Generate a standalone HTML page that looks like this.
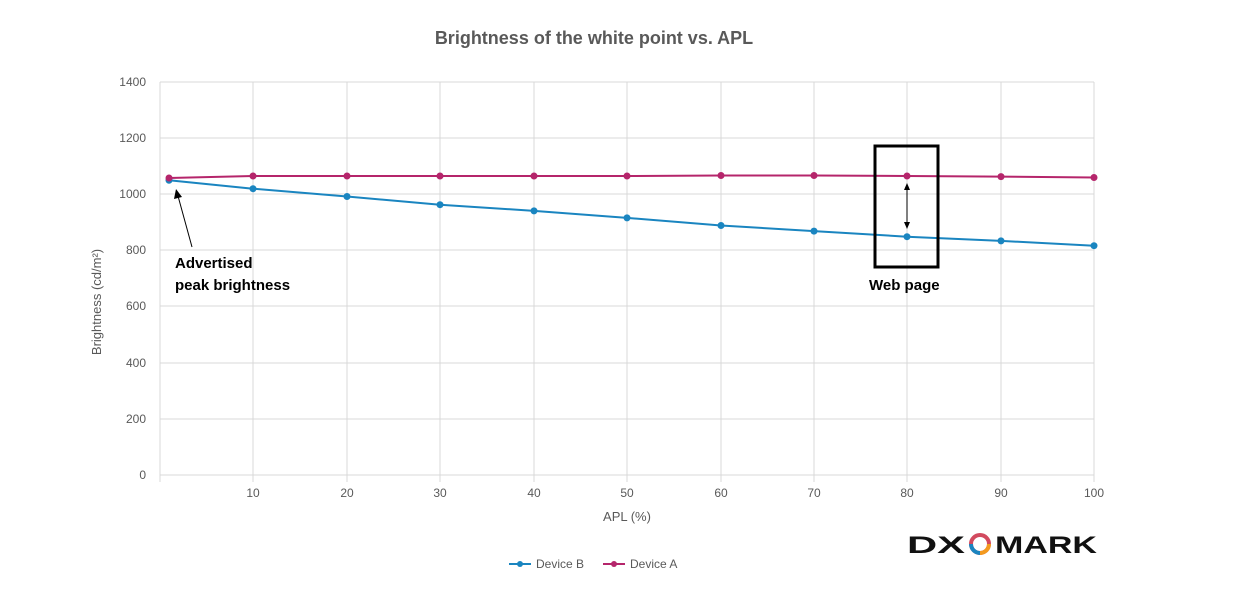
<!DOCTYPE html>
<html><head><meta charset="utf-8"><style>body{margin:0;background:#fff}svg{display:block}</style></head><body>
<svg width="1243" height="596" xmlns="http://www.w3.org/2000/svg" font-family="Liberation Sans, sans-serif">
<rect width="1243" height="596" fill="#fff"/>
<text x="594" y="44" text-anchor="middle" font-size="18" font-weight="bold" fill="#595959">Brightness of the white point vs. APL</text>
<g stroke="#d9d9d9" stroke-width="1">
<line x1="160" y1="82" x2="1094" y2="82"/><line x1="160" y1="138" x2="1094" y2="138"/><line x1="160" y1="194" x2="1094" y2="194"/><line x1="160" y1="250" x2="1094" y2="250"/><line x1="160" y1="306" x2="1094" y2="306"/><line x1="160" y1="363" x2="1094" y2="363"/><line x1="160" y1="419" x2="1094" y2="419"/><line x1="160" y1="475" x2="1094" y2="475"/>
<line x1="160" y1="82" x2="160" y2="482"/><line x1="253" y1="82" x2="253" y2="482"/><line x1="347" y1="82" x2="347" y2="482"/><line x1="440" y1="82" x2="440" y2="482"/><line x1="534" y1="82" x2="534" y2="482"/><line x1="627" y1="82" x2="627" y2="482"/><line x1="721" y1="82" x2="721" y2="482"/><line x1="814" y1="82" x2="814" y2="482"/><line x1="907" y1="82" x2="907" y2="482"/><line x1="1001" y1="82" x2="1001" y2="482"/><line x1="1094" y1="82" x2="1094" y2="482"/>
</g>
<g font-size="12" fill="#595959" text-anchor="end">
<text x="146" y="86">1400</text><text x="146" y="142">1200</text><text x="146" y="198">1000</text><text x="146" y="254">800</text><text x="146" y="310">600</text><text x="146" y="367">400</text><text x="146" y="423">200</text><text x="146" y="479">0</text>
</g>
<g font-size="12" fill="#595959" text-anchor="middle">
<text x="253" y="497">10</text><text x="347" y="497">20</text><text x="440" y="497">30</text><text x="534" y="497">40</text><text x="627" y="497">50</text><text x="721" y="497">60</text><text x="814" y="497">70</text><text x="907" y="497">80</text><text x="1001" y="497">90</text><text x="1094" y="497">100</text>
<text x="627" y="521" font-size="13">APL (%)</text>
</g>
<text transform="translate(101,302) rotate(-90)" font-size="13" fill="#595959" text-anchor="middle">Brightness (cd/m²)</text>
<polyline fill="none" stroke="#1a85c0" stroke-width="2" points="169,180.3 253,188.7 347,196.5 440,204.7 534,210.9 627,217.9 721,225.5 814,231.1 907,236.7 1001,240.9 1094,245.7"/>
<g fill="#1a85c0"><circle cx="169" cy="180.3" r="3.5"/><circle cx="253" cy="188.7" r="3.5"/><circle cx="347" cy="196.5" r="3.5"/><circle cx="440" cy="204.7" r="3.5"/><circle cx="534" cy="210.9" r="3.5"/><circle cx="627" cy="217.9" r="3.5"/><circle cx="721" cy="225.5" r="3.5"/><circle cx="814" cy="231.1" r="3.5"/><circle cx="907" cy="236.7" r="3.5"/><circle cx="1001" cy="240.9" r="3.5"/><circle cx="1094" cy="245.7" r="3.5"/></g>
<polyline fill="none" stroke="#b5256b" stroke-width="2" points="169,178 253,176 347,176 440,176 534,176 627,176 721,175.5 814,175.5 907,176 1001,176.6 1094,177.5"/>
<g fill="#b5256b"><circle cx="169" cy="178" r="3.5"/><circle cx="253" cy="176" r="3.5"/><circle cx="347" cy="176" r="3.5"/><circle cx="440" cy="176" r="3.5"/><circle cx="534" cy="176" r="3.5"/><circle cx="627" cy="176" r="3.5"/><circle cx="721" cy="175.5" r="3.5"/><circle cx="814" cy="175.5" r="3.5"/><circle cx="907" cy="176" r="3.5"/><circle cx="1001" cy="176.6" r="3.5"/><circle cx="1094" cy="177.5" r="3.5"/></g>
<line x1="192" y1="247" x2="178" y2="196" stroke="#000" stroke-width="1"/>
<polygon points="176,189 174,199 182,197" fill="#000"/>
<g font-size="15" font-weight="bold" fill="#000"><text x="175" y="268">Advertised</text><text x="175" y="290">peak brightness</text><text x="869" y="290">Web page</text></g>
<rect x="875" y="146" width="63" height="121" fill="none" stroke="#000" stroke-width="3"/>
<line x1="907" y1="188" x2="907" y2="224" stroke="#000" stroke-width="1"/>
<polygon points="907,183 904,190 910,190" fill="#000"/><polygon points="907,229 904,222 910,222" fill="#000"/>
<text x="907" y="553" font-size="24" font-weight="bold" fill="#111" textLength="58" lengthAdjust="spacingAndGlyphs">DX</text>
<circle cx="980" cy="544" r="9" fill="none" stroke="#d24a5f" stroke-width="4"/>
<path d="M971,544 A9,9 0 0 0 980,553" fill="none" stroke="#1a85c0" stroke-width="4"/>
<path d="M980,553 A9,9 0 0 0 989,544" fill="none" stroke="#f39a1e" stroke-width="4"/>
<text x="995" y="553" font-size="24" font-weight="bold" fill="#111" textLength="102" lengthAdjust="spacingAndGlyphs">MARK</text>
<line x1="509" y1="564" x2="531" y2="564" stroke="#1a85c0" stroke-width="2"/><circle cx="520" cy="564" r="3" fill="#1a85c0"/>
<text x="536" y="568" font-size="12" fill="#595959">Device B</text>
<line x1="603" y1="564" x2="625" y2="564" stroke="#b5256b" stroke-width="2"/><circle cx="614" cy="564" r="3" fill="#b5256b"/>
<text x="630" y="568" font-size="12" fill="#595959">Device A</text>
</svg>
</body></html>
